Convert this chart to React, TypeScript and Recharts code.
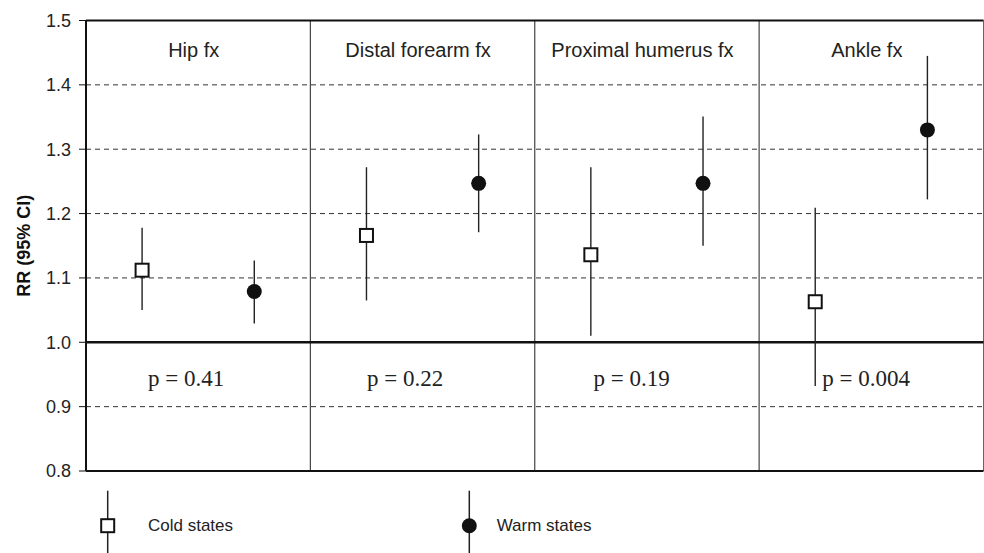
import React from 'react';
import { ScatterChart, Scatter, XAxis, YAxis, ReferenceLine, ErrorBar } from 'recharts';

const categories = ['Hip fx', 'Distal forearm fx', 'Proximal humerus fx', 'Ankle fx'];
const coldRR = [1.112, 1.166, 1.136, 1.063];
const coldLow = [1.05, 1.065, 1.01, 0.932];
const coldHigh = [1.178, 1.272, 1.272, 1.209];
const warmRR = [1.079, 1.247, 1.247, 1.33];
const warmLow = [1.029, 1.171, 1.15, 1.222];
const warmHigh = [1.127, 1.323, 1.351, 1.445];
const pValues = ['p = 0.41', 'p = 0.22', 'p = 0.19', 'p = 0.004'];
const yTicks = [0.8, 0.9, 1.0, 1.1, 1.2, 1.3, 1.4, 1.5];
const dashedLevels = [0.9, 1.1, 1.2, 1.3, 1.4];
const seriesNames = ['Cold states', 'Warm states'];
const yLabel = 'RR (95% CI)';

// annotation placement (data units)
const TITLE_Y = 1.443;
const TITLE_DX = 0.48;
const PVAL_Y = 0.932;
const PVAL_DX = [0.276, 0.252, 0.262, 0.281];

const SANS = '"Liberation Sans", Arial, sans-serif';
const SERIF = '"Liberation Serif", "Times New Roman", serif';

const coldData = categories.map((c, i) => ({
  x: i + 0.25,
  y: coldRR[i],
  err: [coldRR[i] - coldLow[i], coldHigh[i] - coldRR[i]],
}));
const warmData = categories.map((c, i) => ({
  x: i + 0.75,
  y: warmRR[i],
  err: [warmRR[i] - warmLow[i], warmHigh[i] - warmRR[i]],
}));
const titleData = categories.map((c, i) => ({ x: i + TITLE_DX, y: TITLE_Y, label: c }));
const pData = pValues.map((p, i) => ({ x: i + PVAL_DX[i], y: PVAL_Y, label: p }));

const SquareShape = (props: any) => {
  const { cx, cy } = props;
  if (cx == null || cy == null) return <g />;
  return <rect x={cx - 6.5} y={cy - 6.5} width={13} height={13} fill="#fff" stroke="#111" strokeWidth={2} />;
};
const DotShape = (props: any) => {
  const { cx, cy } = props;
  if (cx == null || cy == null) return <g />;
  return <circle cx={cx} cy={cy} r={7.5} fill="#111" />;
};
const TitleShape = (props: any) => {
  const { cx, cy, payload } = props;
  return (
    <text x={cx} y={cy} textAnchor="middle" fontFamily={SANS} fontSize={20} fill="#222">
      {payload.label}
    </text>
  );
};
const PShape = (props: any) => {
  const { cx, cy, payload } = props;
  return (
    <text x={cx} y={cy} textAnchor="start" fontFamily={SERIF} fontSize={23} fill="#222">
      {payload.label}
    </text>
  );
};

const Legendish = () => (
  <svg width={984} height={553} style={{ position: 'absolute', left: 0, top: 0, pointerEvents: 'none' }}>
    <line x1={107.7} x2={107.7} y1={490.7} y2={553} stroke="#222" strokeWidth={1.5} />
    <rect x={101.2} y={519.2} width={13} height={13} fill="#fff" stroke="#111" strokeWidth={2} />
    <text x={148} y={525.7} dominantBaseline="central" fontFamily={SANS} fontSize={17} fill="#222">
      {seriesNames[0]}
    </text>
    <line x1={469.3} x2={469.3} y1={490.7} y2={553} stroke="#222" strokeWidth={1.5} />
    <circle cx={469.3} cy={525.7} r={7.5} fill="#111" />
    <text x={496.7} y={525.7} dominantBaseline="central" fontFamily={SANS} fontSize={17} fill="#222">
      {seriesNames[1]}
    </text>
  </svg>
);

export default function App() {
  return (
    <div style={{ position: 'absolute', left: 0, top: 0, width: 984, height: 553, background: '#fff' }}>
      <ScatterChart width={984} height={553} margin={{ top: 20.5, right: 0.5, left: 0, bottom: 74 }}>
        <XAxis
          type="number"
          dataKey="x"
          domain={[0, 4]}
          ticks={[0, 1, 2, 3, 4]}
          allowDataOverflow
          tick={false}
          tickSize={6}
          height={8}
          tickLine={{ stroke: '#444', strokeWidth: 1.2 }}
          axisLine={{ stroke: '#111', strokeWidth: 2 }}
        />
        <YAxis
          type="number"
          dataKey="y"
          domain={[0.8, 1.5]}
          ticks={yTicks}
          allowDataOverflow
          width={86}
          tickSize={7}
          tickMargin={8}
          tickFormatter={(v: number) => v.toFixed(1)}
          tick={{ fontSize: 18, fill: '#222', fontFamily: SANS }}
          tickLine={{ stroke: '#111', strokeWidth: 1 }}
          axisLine={{ stroke: '#111', strokeWidth: 2 }}
          label={{
            content: (p: any) => {
              const vb = p.viewBox || { x: 0, y: 20, width: 86, height: 450 };
              const cy = vb.y + vb.height / 2;
              return (
                <text
                  x={24}
                  y={cy}
                  transform={`rotate(-90, 24, ${cy})`}
                  textAnchor="middle"
                  dominantBaseline="central"
                  fontFamily={SANS}
                  fontWeight="bold"
                  fontSize={18}
                  fill="#111"
                >
                  {yLabel}
                </text>
              );
            },
          }}
        />
        {dashedLevels.map((v) => (
          <ReferenceLine key={v} y={v} stroke="#333" strokeWidth={1} strokeDasharray="5 4" />
        ))}
        {[1, 2, 3].map((v) => (
          <ReferenceLine key={'v' + v} x={v} stroke="#444" strokeWidth={1.2} />
        ))}
        <ReferenceLine x={4} stroke="#666" strokeWidth={1} />
        <ReferenceLine y={1.5} stroke="#111" strokeWidth={2} />
        <ReferenceLine y={1.0} stroke="#111" strokeWidth={2.5} />
        <Scatter name={seriesNames[0]} data={coldData} shape={SquareShape} isAnimationActive={false}>
          <ErrorBar dataKey="err" direction="y" width={0} stroke="#222" strokeWidth={1.4} />
        </Scatter>
        <Scatter name={seriesNames[1]} data={warmData} shape={DotShape} isAnimationActive={false}>
          <ErrorBar dataKey="err" direction="y" width={0} stroke="#222" strokeWidth={1.4} />
        </Scatter>
        <Scatter data={titleData} shape={TitleShape} isAnimationActive={false} legendType="none" />
        <Scatter data={pData} shape={PShape} isAnimationActive={false} legendType="none" />
      </ScatterChart>
      <Legendish />
    </div>
  );
}
